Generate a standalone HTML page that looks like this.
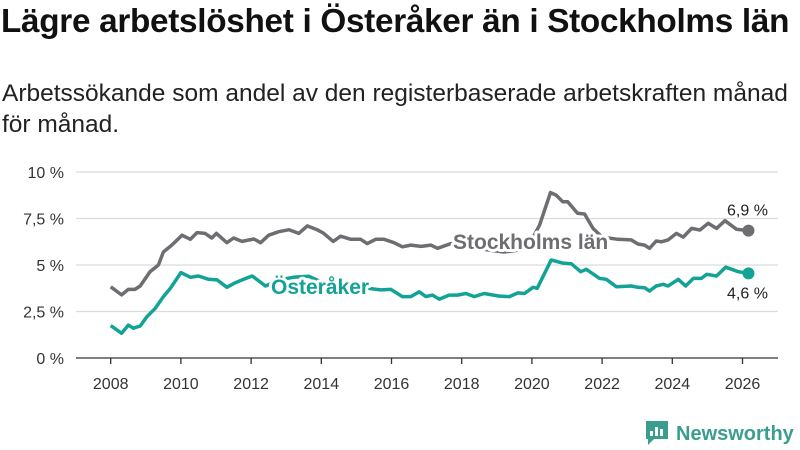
<!DOCTYPE html>
<html><head><meta charset="utf-8">
<style>
body{margin:0;width:800px;height:450px;background:#fff;overflow:hidden;font-family:"Liberation Sans",sans-serif;}
#title{position:absolute;left:1px;top:3px;font-size:33.3px;font-weight:bold;color:#111;white-space:nowrap;letter-spacing:-0.3px}
#sub{position:absolute;left:2px;top:78px;font-size:24.5px;color:#222;line-height:31px;width:792px}
svg{position:absolute;left:0;top:0}
</style></head><body>
<div id="title">Lägre arbetslöshet i Österåker än i Stockholms län</div>
<div id="sub">Arbetssökande som andel av den registerbaserade arbetskraften månad för månad.</div>
<svg id="chart" width="800" height="450"></svg>
<script>
const yTicks=[0,2.5,5,7.5,10];
const yTickLabels=["0 %","2,5 %","5 %","7,5 %","10 %"];
const xTicks=[2008,2010,2012,2014,2016,2018,2020,2022,2024,2026];
const sthlmYears=[2008.0,2008.31,2008.5,2008.69,2008.84,2009.12,2009.36,2009.5,2009.74,2010.03,2010.27,2010.46,2010.69,2010.88,2011.01,2011.31,2011.5,2011.74,2012.08,2012.27,2012.5,2012.79,2013.08,2013.36,2013.6,2013.88,2014.07,2014.34,2014.55,2014.84,2015.12,2015.31,2015.55,2015.79,2016.07,2016.31,2016.55,2016.84,2017.12,2017.31,2017.69,2018.0,2018.4,2018.8,2019.2,2019.6,2019.9,2020.22,2020.53,2020.69,2020.88,2021.02,2021.3,2021.5,2021.74,2022.0,2022.45,2022.83,2023.02,2023.21,2023.35,2023.54,2023.69,2023.88,2024.12,2024.31,2024.55,2024.79,2025.02,2025.26,2025.5,2025.83,2026.17];
const sthlmValues=[3.83,3.39,3.69,3.69,3.87,4.64,5.0,5.7,6.07,6.6,6.38,6.74,6.7,6.45,6.7,6.2,6.45,6.27,6.4,6.2,6.6,6.79,6.9,6.7,7.1,6.9,6.7,6.27,6.55,6.38,6.38,6.15,6.38,6.38,6.2,5.98,6.07,6.0,6.07,5.9,6.15,6.0,5.9,5.8,5.7,5.8,6.0,7.15,8.89,8.76,8.4,8.4,7.78,7.74,6.97,6.5,6.38,6.35,6.13,6.07,5.9,6.29,6.25,6.35,6.7,6.5,6.97,6.88,7.24,6.97,7.38,6.92,6.85];
const osterYears=[2008.0,2008.31,2008.5,2008.65,2008.84,2009.03,2009.27,2009.5,2009.7,2010.0,2010.27,2010.5,2010.79,2011.03,2011.31,2011.55,2011.79,2012.03,2012.41,2012.8,2013.2,2013.64,2014.1,2014.6,2015.1,2015.69,2015.98,2016.31,2016.55,2016.79,2016.98,2017.17,2017.36,2017.64,2017.88,2018.12,2018.36,2018.64,2019.07,2019.36,2019.6,2019.79,2020.03,2020.15,2020.55,2020.88,2021.12,2021.39,2021.55,2021.93,2022.12,2022.41,2022.83,2023.02,2023.21,2023.35,2023.54,2023.74,2023.88,2024.17,2024.38,2024.6,2024.83,2024.98,2025.26,2025.52,2025.88,2026.17];
const osterValues=[1.74,1.33,1.77,1.6,1.72,2.22,2.67,3.3,3.75,4.59,4.34,4.41,4.23,4.2,3.8,4.05,4.23,4.41,3.87,4.2,4.34,4.4,4.0,3.9,3.8,3.66,3.69,3.3,3.3,3.56,3.3,3.38,3.16,3.38,3.38,3.47,3.3,3.47,3.33,3.3,3.5,3.47,3.8,3.75,5.27,5.1,5.07,4.64,4.77,4.28,4.23,3.83,3.87,3.8,3.78,3.6,3.87,3.96,3.87,4.23,3.87,4.28,4.28,4.5,4.41,4.88,4.64,4.55];
const lastLabels=["6,9 %","4,6 %"];

const NS="http://www.w3.org/2000/svg";
const svg=document.getElementById('chart');
const X0=110.7,PX_YR=35.1,Y0=358,PX_PCT=18.6;
const xs=y=>X0+(y-2008)*PX_YR;
const ys=v=>Y0-v*PX_PCT;
function mk(tag,attrs,parent){const e=document.createElementNS(NS,tag);for(const k in attrs)e.setAttribute(k,attrs[k]);(parent||svg).appendChild(e);return e;}

yTicks.forEach((t,i)=>{
  if(t>0){const g=mk('line',{x1:76,x2:778,y1:ys(t),y2:ys(t),stroke:'#dcdcdc','stroke-width':1.3});
  
  }
  const l=mk('text',{x:64,y:ys(t)+6,'text-anchor':'end','font-size':16,fill:'#333'});
  l.textContent=yTickLabels[i];
  
  
});
const ax=mk('line',{x1:76,x2:778,y1:Y0,y2:Y0,stroke:'#333','stroke-width':1.3});


xTicks.forEach(t=>{
  const tk=mk('line',{x1:xs(t),x2:xs(t),y1:Y0,y2:Y0+6,stroke:'#333','stroke-width':1.3});
  
  
  const l=mk('text',{x:xs(t),y:Y0+31,'text-anchor':'middle','font-size':16,fill:'#333'});
  l.textContent=t;
  
  
});
function line(years,vals,color,name){
  const d=years.map((y,i)=>(i?'L':'M')+xs(y).toFixed(1)+','+ys(vals[i]).toFixed(1)).join('');
  const p=mk('path',{d:d,fill:'none',stroke:color,'stroke-width':3.5,'stroke-linejoin':'round'});
  
  
  const n=years.length-1;
  const c=mk('circle',{cx:xs(years[n]),cy:ys(vals[n]),r:6,fill:color});
  
  
}
line(sthlmYears,sthlmValues,'#6e6d72','stockholm');
line(osterYears,osterValues,'#13a396','osteraker');
function lab(txt,x,y,color,size,bold,name,anchor){
  const t=mk('text',{x:x,y:y,'font-size':size,'font-weight':bold?'bold':'normal',fill:color,stroke:'#fff','stroke-width':bold?6:4,'paint-order':'stroke','stroke-linejoin':'round','text-anchor':anchor||'start'});
  t.textContent=txt;
  
  
}
lab('Stockholms län',453,249,'#6e6d72',21,true,'stockholm-label');
lab('Österåker',271,294,'#13a396',21,true,'osteraker-label');
lab(lastLabels[0],xs(sthlmYears[sthlmYears.length-1])-1,ys(sthlmValues[sthlmValues.length-1])-15,'#222',16,false,'stockholm-last-value','middle');
lab(lastLabels[1],xs(osterYears[osterYears.length-1])-1,ys(osterValues[osterValues.length-1])+25,'#222',16,false,'osteraker-last-value','middle');

const lg=mk('g',{});


mk('path',{d:'M646,421 h22 v18 h-14 l-6,6 v-6 h-2 z',fill:'#3a9e8f'},lg);
mk('rect',{x:650,y:431,width:3,height:5,fill:'#fff'},lg);
mk('rect',{x:655,y:427,width:3,height:9,fill:'#fff'},lg);
mk('rect',{x:660,y:429,width:3,height:7,fill:'#fff'},lg);
const lt=mk('text',{x:676,y:440,'font-size':20,'font-weight':'bold',fill:'#3a9e8f'},lg);
lt.textContent='Newsworthy';
</script>
</body></html>
